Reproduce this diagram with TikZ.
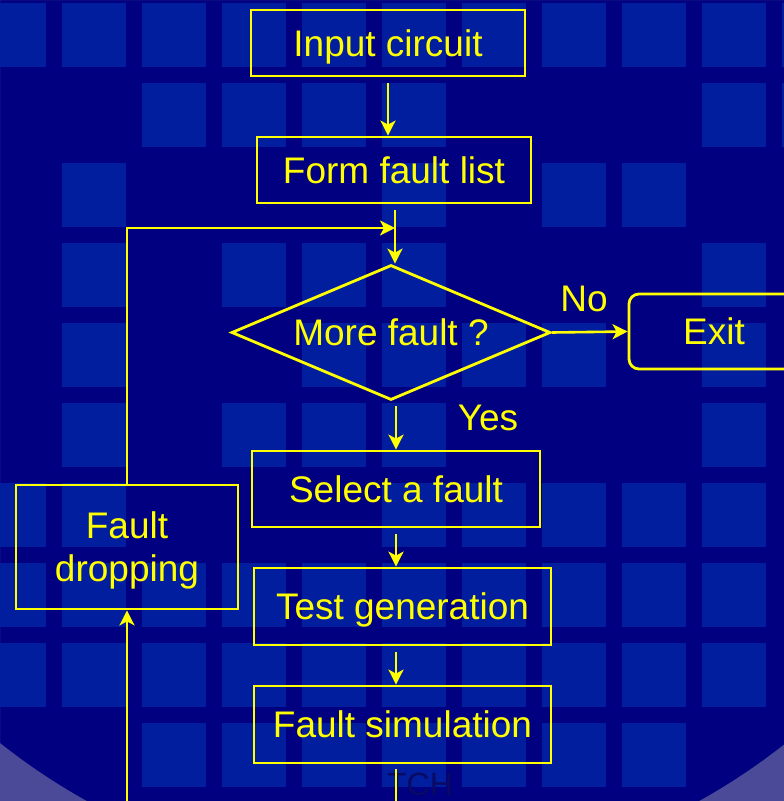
\documentclass[tikz,border=0pt]{standalone}
\usepackage{fontspec}
\setmainfont{Liberation Sans}
\usetikzlibrary{shapes.geometric,arrows.meta}
\definecolor{slidebg}{RGB}{0,0,128}
\definecolor{tilebg}{RGB}{0,30,158}
\definecolor{rimbg}{RGB}{74,74,152}
\definecolor{tagink}{RGB}{10,10,100}
\definecolor{flowink}{RGB}{255,255,0}
\begin{document}
\begin{tikzpicture}[x=1pt,y=-1pt,
    every node/.style={text=flowink,font=\fontsize{37}{43}\selectfont,inner sep=0pt},
    box/.style={draw=flowink,line width=2.8pt,text height=26.5pt,text depth=0pt},
    test/.style={box,shape=diamond,aspect=2.36},
    link/.style={draw=flowink,line width=2.6pt,-{Stealth[length=15pt,width=15pt,inset=4pt]}}]
  \useasboundingbox (0,0) rectangle (784,801);
  \fill[slidebg] (0,0) rectangle (784,801);
  \fill[rimbg,even odd rule] (0,0) rectangle (784,801) (393,248) circle[radius=632];
  % tiles
  \foreach \row/\cols in {0/{0,...,10},1/{2,3,4,5,9,10},2/{1,5,7,8},3/{1,3,4,5,9},
      4/{1,4,5,6,7,9},5/{1,3,4,5,9},6/{0,1,5,6,7,8,9},7/{0,...,9},8/{0,...,9},9/{2,...,8}}
    \foreach \col in \cols
      \fill[tilebg] (-18+80*\col,3+80*\row) rectangle ++(64,64);
  \node[text=tagink,font=\fontsize{32}{38}\selectfont,text height=23pt,text depth=0pt] (tag) at (420,783.5) {TCH};
  \draw
    (388,43) node[box,minimum width=274,minimum height=66] (inp){Input circuit}
    (394,170) node[box,minimum width=274,minimum height=66] (form){Form fault list}
    (391,332.5) node[test,minimum width=319,minimum height=135] (more){More fault ?}
    (714,331.5) node[box,rounded corners=10,minimum width=170,minimum height=75] (exit){Exit}
    (396,489) node[box,minimum width=288,minimum height=76] (pick){Select a fault}
    (402.5,606.5) node[box,minimum width=297,minimum height=77] (gen){Test generation}
    (402.5,724.5) node[box,minimum width=297,minimum height=77] (sim){Fault simulation}
    (127,547) node[box,align=center,text height=69.5pt,minimum width=222,minimum height=124] (drop){Fault\\dropping}
    (584,298) node[text height=26.5pt] (no){No}
    (488,417) node[text height=26.5pt] (yes){Yes};
  \coordinate (join) at (395,228);
  \coordinate (simout) at (396,806);
  \coordinate (dropin) at (127,806);
  \begin{scope}[link]
    \draw[shorten <=6pt] (inp.south) to (inp.south |- form.north);
    \draw[shorten <=6pt] (form.south -| join) to (join |- more.north);
    \draw (drop.north) |- (join);
    \draw (more.east) to (exit.west);
    \draw[shorten <=5pt] (pick.north |- more.south) to (pick.north);
    \draw[shorten <=6pt] (pick.south) to (pick.south |- gen.north);
    \draw[shorten <=6pt] (pick.south |- gen.south) to (pick.south |- sim.north);
    \draw[-,shorten <=5pt] (pick.south |- sim.south) to (simout);
    \draw (dropin) to (drop.south);
  \end{scope}
\end{tikzpicture}
\end{document}
